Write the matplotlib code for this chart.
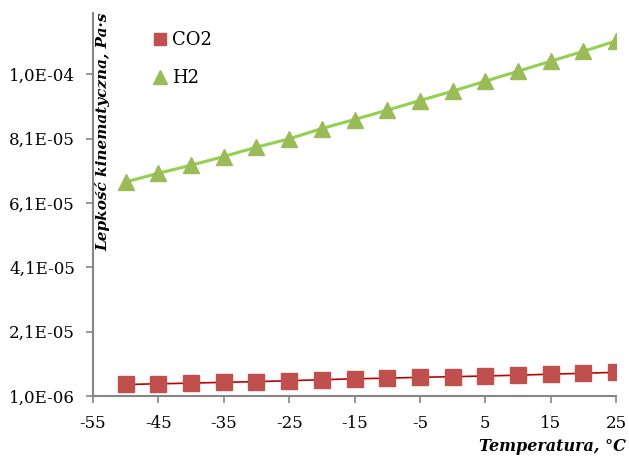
import matplotlib
matplotlib.use("Agg")
import matplotlib.pyplot as plt
from matplotlib.lines import Line2D
from matplotlib.ticker import FixedLocator, FuncFormatter

plt.rcParams["axes.unicode_minus"] = False

# temperatura, °C
temp = [-50, -45, -40, -35, -30, -25, -20, -15, -10, -5, 0, 5, 10, 15, 20, 25]

# lepkość kinematyczna
co2 = [4.57e-6, 4.79e-6, 4.98e-6, 5.26e-6, 5.44e-6, 5.75e-6, 6.06e-6, 6.34e-6,
       6.53e-6, 6.81e-6, 6.99e-6, 7.21e-6, 7.46e-6, 7.77e-6, 8.05e-6, 8.36e-6]
h2 = [6.75e-5, 7.02e-5, 7.27e-5, 7.54e-5, 7.83e-5, 8.09e-5, 8.41e-5, 8.69e-5,
      8.98e-5, 9.28e-5, 9.57e-5, 9.88e-5, 1.019e-4, 1.050e-4, 1.081e-4, 1.113e-4]

x_ticks = [-55, -45, -35, -25, -15, -5, 5, 15, 25]
y_ticks = [1e-6, 2.1e-5, 4.1e-5, 6.1e-5, 8.1e-5, 1.01e-4]

font = "DejaVu Serif"
gray = "#868686"

fig = plt.figure(figsize=(6.29, 4.59), dpi=100)
ax = fig.add_axes([0.1479, 0.1373, 0.8314, 0.8344])

ax.plot(temp, co2, color="#C00000", lw=1.2, zorder=2)
ax.plot(temp, co2, ls="none", marker="s", ms=11.5, color="#C0504D", zorder=3)
ax.plot(temp, h2, color="#92D050", lw=2.2, zorder=2)
ax.plot(temp, h2, ls="none", marker="^", ms=12, color="#9BBB59", zorder=3)

ax.set_xlim(-55, 25)
ax.set_ylim(1e-6, 1.2e-4)
ax.xaxis.set_major_locator(FixedLocator(x_ticks))
ax.yaxis.set_major_locator(FixedLocator(y_ticks))
ax.yaxis.set_major_formatter(FuncFormatter(lambda v, p: f"{v:.1E}".replace(".", ",")))

for s in ["top", "right"]:
    ax.spines[s].set_visible(False)
for s in ["left", "bottom"]:
    ax.spines[s].set_color(gray)
    ax.spines[s].set_linewidth(1.5)
ax.tick_params(direction="out", length=5, width=1.2, color=gray)
ax.tick_params(axis="x", pad=9)
ax.tick_params(axis="y", pad=8)
for lab in ax.get_xticklabels() + ax.get_yticklabels():
    lab.set_fontfamily(font)
    lab.set_fontsize(12)

handles = [
    Line2D([], [], ls="none", marker="s", ms=9, color="#C0504D", label="CO2"),
    Line2D([], [], ls="none", marker="^", ms=10, color="#9BBB59", label="H2"),
]
ax.legend(handles=handles, loc="upper left", bbox_to_anchor=(0.08, 0.995),
          frameon=False, handletextpad=0.15, handlelength=1.0, labelspacing=1.1,
          prop={"family": font, "size": 13})

fig.text(0.152, 0.972, "Lepkość kinematyczna, Pa·s", rotation=90, ha="left", va="top",
         fontfamily=font, fontsize=11, fontweight="bold", fontstyle="italic")
fig.text(0.995, 0.008, "Temperatura, °C", ha="right", va="bottom",
         fontfamily=font, fontsize=11.5, fontweight="bold", fontstyle="italic")

fig.savefig("out.png", dpi=100)
